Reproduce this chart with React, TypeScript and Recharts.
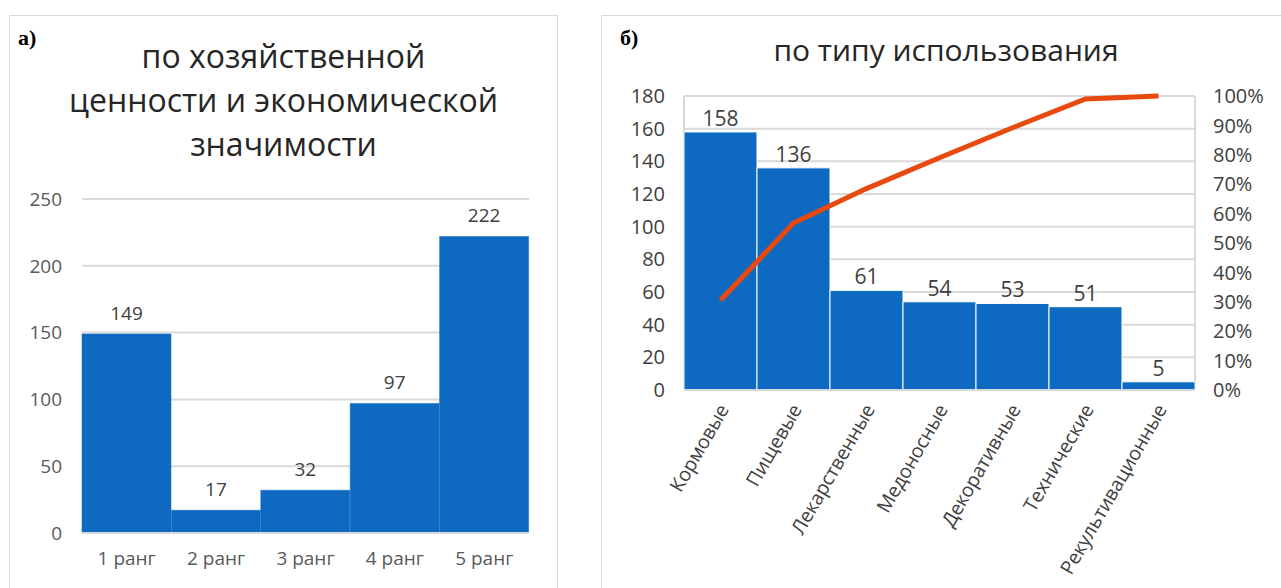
import { BarChart, ComposedChart, Bar, Line, XAxis, YAxis, CartesianGrid, LabelList } from 'recharts'

const ranks = ['1 ранг', '2 ранг', '3 ранг', '4 ранг', '5 ранг']
const rankCounts = [149, 17, 32, 97, 222]
const rankTicks = [0, 50, 100, 150, 200, 250]

const useTypes = ['Кормовые', 'Пищевые', 'Лекарственные', 'Медоносные', 'Декоративные', 'Технические', 'Рекультивационные']
const useCounts = [158, 136, 61, 54, 53, 51, 5]
const cumulativePct = [30.5, 56.8, 68.5, 79.0, 89.2, 99.0, 100]
const countTicks = [0, 20, 40, 60, 80, 100, 120, 140, 160, 180]
const pctTicks = [0, 10, 20, 30, 40, 50, 60, 70, 80, 90, 100]

const BLUE = '#0E6AC1'
const ORANGE = '#E8490F'
const GRID = '#D9D9D9'
const FONT = '"Open Sans", sans-serif'

const rankData = ranks.map((name, i) => ({ name, value: rankCounts[i] }))
const useData = useTypes.map((name, i) => ({ name, value: useCounts[i], pct: cumulativePct[i] }))

const panel = (left: number, width: number): React.CSSProperties => ({
  position: 'absolute', left, top: 15, width, height: 600,
  border: '1px solid #D9D9D9', boxSizing: 'border-box',
})

const letter: React.CSSProperties = {
  position: 'absolute', top: 27, fontFamily: '"Liberation Serif", serif',
  fontWeight: 700, fontSize: 22, lineHeight: 1, color: '#000',
}

function SlantTick({ x, y, payload }: any) {
  return (
    <g transform={`translate(${x + 3},${y + 8})`}>
      <text transform="rotate(-60)" textAnchor="end" dy="0.35em" fontSize={19.5} letterSpacing={-0.2} fill="#404040" fontFamily={FONT}>
        {payload.value}
      </text>
    </g>
  )
}

export default function App() {
  return (
    <div style={{ position: 'absolute', left: 0, top: 0, width: 1281, height: 588, overflow: 'hidden', background: '#fff', fontFamily: FONT }}>
      <div style={panel(9, 549)} />
      <div style={panel(601, 700)} />

      <div style={{ ...letter, left: 18 }}>а)</div>
      <div style={{ ...letter, left: 620 }}>б)</div>

      <div style={{ position: 'absolute', left: 9, top: 34, width: 549, textAlign: 'center', fontSize: 32, lineHeight: '44px', color: '#262626' }}>
        по хозяйственной<br />ценности и экономической<br />значимости
      </div>
      <div style={{ position: 'absolute', left: 601, top: 30, width: 690, textAlign: 'center', fontSize: 30, lineHeight: '40px', color: '#262626' }}>
        по типу использования
      </div>

      <div style={{ position: 'absolute', left: 0, top: 170 }}>
        <BarChart width={557} height={418} data={rankData} barCategoryGap={0}
          margin={{ top: 29, right: 28, left: 12, bottom: 15 }}>
          <CartesianGrid vertical={false} stroke={GRID} strokeWidth={2} />
          <XAxis dataKey="name" height={40} tickLine={false} axisLine={{ stroke: GRID, strokeWidth: 2 }}
            tick={{ fontSize: 19, fill: '#595959', fontFamily: FONT }} tickMargin={13} />
          <YAxis width={70} domain={[0, 250]} ticks={rankTicks} axisLine={false} tickLine={false}
            tick={{ fontSize: 19, fill: '#595959', fontFamily: FONT }} tickMargin={14} />
          <Bar dataKey="value" fill={BLUE} stroke={BLUE} strokeWidth={0.5} isAnimationActive={false}>
            <LabelList dataKey="value" position="top" offset={14} fontSize={19} fill="#404040" fontFamily={FONT} />
          </Bar>
        </BarChart>
      </div>

      <div style={{ position: 'absolute', left: 600, top: 70 }}>
        <ComposedChart width={681} height={518} data={useData} barCategoryGap={0}
          margin={{ top: 26, right: 16, left: 24, bottom: 8 }}>
          <CartesianGrid yAxisId="left" stroke={GRID} strokeWidth={2}
            verticalCoordinatesGenerator={({ offset }: any) => [offset.left, offset.left + offset.width]} />
          <XAxis dataKey="name" height={190} interval={0} tickLine={false} axisLine={{ stroke: GRID, strokeWidth: 2 }}
            tick={<SlantTick />} />
          <YAxis yAxisId="left" width={60} domain={[0, 180]} ticks={countTicks} axisLine={false} tickLine={false}
            tick={{ fontSize: 20, fill: '#404040', fontFamily: FONT }} tickMargin={13} />
          <YAxis yAxisId="right" orientation="right" width={70} domain={[0, 100]} ticks={pctTicks}
            tickFormatter={(v: number) => `${v}%`} axisLine={false} tickLine={false}
            tick={{ fontSize: 20, fill: '#404040', fontFamily: FONT, textAnchor: 'start' }} tickMargin={12} />
          <Bar yAxisId="left" dataKey="value" fill={BLUE} stroke="#fff" strokeWidth={1} isAnimationActive={false}>
            <LabelList dataKey="value" position="top" offset={6} fontSize={21} fill="#404040" fontFamily={FONT} />
          </Bar>
          <Line yAxisId="right" dataKey="pct" type="linear" stroke={ORANGE} strokeWidth={5} dot={false}
            activeDot={false} isAnimationActive={false} />
        </ComposedChart>
      </div>
    </div>
  )
}
